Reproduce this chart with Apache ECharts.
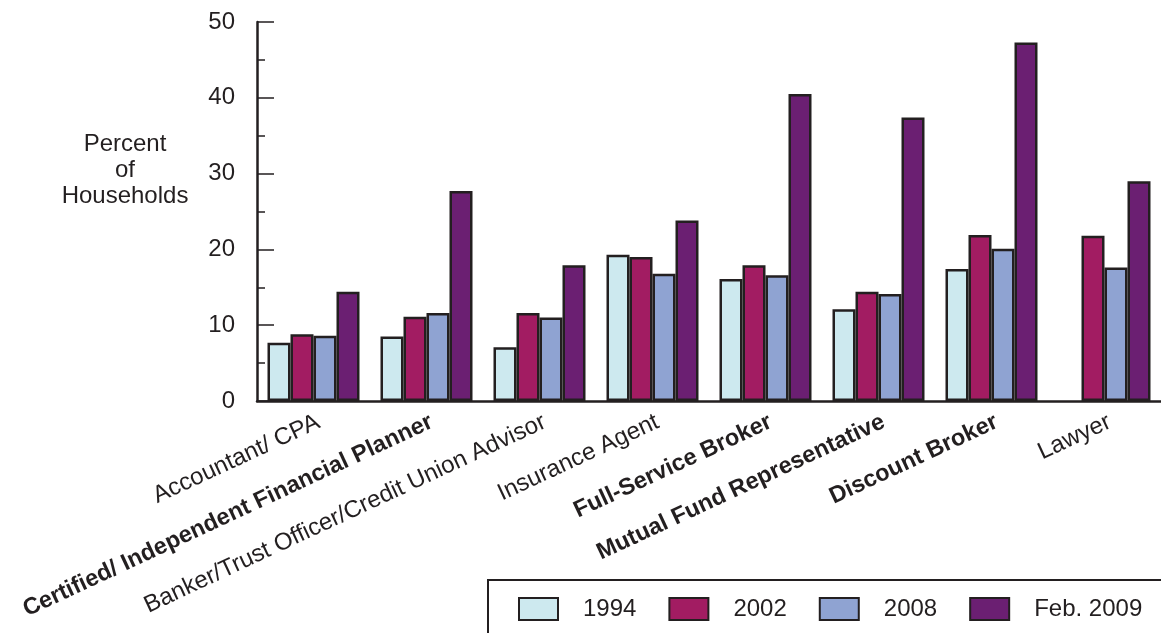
<!DOCTYPE html>
<html>
<head>
<meta charset="utf-8">
<script src="https://cdn.jsdelivr.net/npm/echarts@6/dist/echarts.min.js"></script>
<style>
html,body{margin:0;padding:0;background:#fff;}
#chart{width:1161px;height:633px;}
</style>
</head>
<body>
<div id="chart"></div>
<script>
const categories = [
  'Accountant/ CPA',
  'Certified/ Independent Financial Planner',
  'Banker/Trust Officer/Credit Union Advisor',
  'Insurance Agent',
  'Full-Service Broker',
  'Mutual Fund Representative',
  'Discount Broker',
  'Lawyer'
];
const boldCategories = [
  'Certified/ Independent Financial Planner',
  'Full-Service Broker',
  'Mutual Fund Representative',
  'Discount Broker'
];
const seriesNames = ['1994', '2002', '2008', 'Feb. 2009'];
const values1994 = [7.7, 8.5, 7.1, 19.3, 16.1, 12.1, 17.4, null];
const values2002 = [8.8, 11.1, 11.6, 19.0, 17.9, 14.4, 21.9, 21.8];
const values2008 = [8.6, 11.6, 11.0, 16.8, 16.6, 14.1, 20.1, 17.6];
const values2009 = [14.4, 27.7, 17.9, 23.8, 40.5, 37.4, 47.3, 29.0];
const yTicks = [0, 10, 20, 30, 40, 50];

const colors = ['#cde9ef', '#a21c62', '#8fa3d2', '#6b1f72'];
const ink = '#231f20';
const FONT = "'Liberation Sans', Arial, Helvetica, sans-serif";
const allValues = [values1994, values2002, values2008, values2009];

const chart = echarts.init(document.getElementById('chart'), null, {renderer: 'canvas'});

const series = seriesNames.map((name, i) => ({
  name: name,
  type: 'bar',
  data: allValues[i],
  barWidth: 23,
  barGap: '0%',
  itemStyle: {color: colors[i], borderColor: ink, borderWidth: 2.5},
  emphasis: {disabled: true}
}));

chart.setOption({
  animation: false,
  backgroundColor: '#fff',
  textStyle: {fontFamily: FONT},
  grid: {left: 257, right: -6, top: 22, bottom: 232, containLabel: false},
  legend: {
    data: seriesNames,
    left: 518,
    top: 597,
    padding: 0,
    itemWidth: 39,
    itemHeight: 22,
    itemGap: 32,
    icon: 'rect',
    itemStyle: {borderColor: ink, borderWidth: 2},
    textStyle: {fontFamily: FONT, fontSize: 24, color: ink, padding: [0, 0, 0, 20]},
    selectedMode: false
  },
  xAxis: {
    type: 'category',
    data: categories,
    axisLine: {show: true, lineStyle: {color: ink, width: 2.5}},
    axisTick: {show: false},
    axisLabel: {
      interval: 0,
      rotate: 25,
      margin: 9,
      verticalAlign: 'top',
      hideOverlap: false,
      color: ink,
      fontFamily: FONT,
      fontSize: 24,
      formatter: v => (boldCategories.indexOf(v) >= 0 ? '{b|' + v + '}' : '{n|' + v + '}'),
      rich: {
        b: {fontFamily: FONT, fontSize: 23.5, fontWeight: 'bold', color: ink},
        n: {fontFamily: FONT, fontSize: 24, color: ink}
      }
    }
  },
  yAxis: {
    type: 'value',
    min: yTicks[0],
    max: yTicks[yTicks.length - 1],
    interval: 10,
    axisLine: {show: true, lineStyle: {color: ink, width: 2.5}},
    axisTick: {show: true, inside: true, length: 17, lineStyle: {color: ink, width: 1.5}},
    minorTick: {show: true, splitNumber: 2, length: 8, lineStyle: {color: ink, width: 1.5}},
    splitLine: {show: false},
    axisLabel: {color: ink, fontFamily: FONT, fontSize: 24, margin: 22}
  },
  graphic: [
    {
      type: 'text',
      x: 125,
      y: 170,
      style: {
        text: 'Percent\nof\nHouseholds',
        font: '24px ' + FONT,
        fill: ink,
        align: 'center',
        verticalAlign: 'middle',
        lineHeight: 26
      }
    },
    {
      type: 'rect',
      shape: {x: 488, y: 580, width: 720, height: 100},
      style: {fill: 'none', stroke: ink, lineWidth: 2},
      silent: true
    }
  ],
  series: series
});
</script>
</body>
</html>
